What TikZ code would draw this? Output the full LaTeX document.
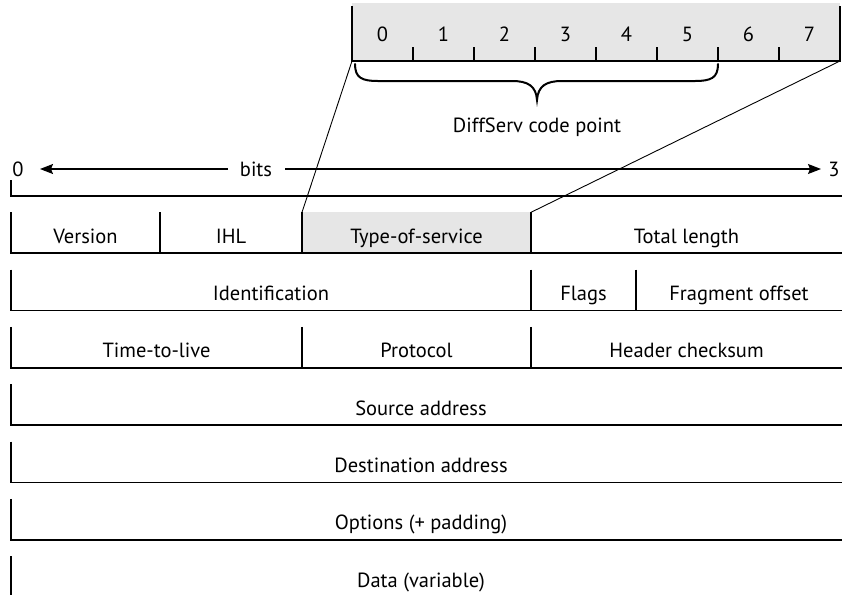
\documentclass[tikz,border=0pt]{standalone}
\usepackage{fontspec}
\setmainfont{PT Sans}
\usetikzlibrary{arrows.meta}
\definecolor{cellgray}{RGB}{230,230,230}
\begin{document}
\begin{tikzpicture}[x=1pt,y=-1pt,
  font=\fontsize{20.5}{24}\selectfont,
  rule/.style={line width=1.7pt},
  tickline/.style={line width=1.5pt},
  slant/.style={line width=0.9pt},
  arrowline/.style={line width=1.2pt,-{Stealth[length=13pt,width=10pt,inset=2pt]}},
  lab/.style={inner sep=0pt,anchor=base}]
\useasboundingbox (0,0) rectangle (842,595);

% ---- byte box at the top
\fill[cellgray] (352,3) rectangle (840,61);
\draw[rule] (352,6) -- (352,61) -- (840,61) -- (840,6);
\foreach \i in {1,...,7} {
  \draw[tickline] ({352+61*\i},47) -- ({352+61*\i},61);
}
\foreach \i in {0,...,7} {
  \node[lab] (d\i) at ({352+61*\i+30.5},41) {\i};
}
\coordinate (bl) at (352,61);
\coordinate (br) at (840,61);

% ---- brace
\draw[line width=2pt,line cap=round]
  (355,64) .. controls (355,78) and (362,81) .. (378,81)
  -- (512,81) .. controls (528,81) and (536,86) .. (537,100)
  .. controls (538,86) and (546,81) .. (562,81)
  -- (695,81) .. controls (711,81) and (718,78) .. (718,64);
\node[lab] (dscp) at (537,132) {DiffServ code point};

% ---- bits arrow
\node[lab] (b0) at (18,176) {0};
\node[lab] (bits) at (256,176) {bits};
\node[lab] (b31) at (834,176) {3};
\coordinate (al) at (40,169);
\coordinate (ar) at (821,169);
\draw[arrowline] (228,169) -- (al);
\draw[arrowline] (285,169) -- (ar);
\draw[rule] (11,180) |- (842,195.7);

% ---- rows
\fill[cellgray] (302,212.3) rectangle (531,253.3);
\foreach \k in {0,...,5} {
  \draw[rule] (11,{212.3+57.3*\k}) |- (842,{253.3+57.3*\k});
}
\draw[rule] (11,{212.3+57.3*6}) -- (11,595);

% row 0
\draw[rule] (160,212.3) -- (160,253.3);
\draw[rule] (302,212.3) -- (302,253.3);
\draw[rule] (531,212.3) -- (531,253.3);
\coordinate (tl) at (302,212.3);
\coordinate (tr) at (531,212.3);
\node[lab] (ver) at (85.5,243.2) {Version};
\node[lab] (ihl) at (231,243.2) {IHL};
\node[lab] (tos) at (416.5,243.2) {Type-of-service};
\node[lab] (tlen) at (686.5,243.2) {Total length};

% row 1
\draw[rule] (531,269.6) -- (531,310.6);
\draw[rule] (636,269.6) -- (636,310.6);
\node[lab] (ident) at (271,300.5) {Identification};
\node[lab] (flags) at (583.5,300.5) {Flags};
\node[lab] (frag) at (739,300.5) {Fragment offset};

% row 2
\draw[rule] (302,326.9) -- (302,367.9);
\draw[rule] (531,326.9) -- (531,367.9);
\node[lab] (ttl) at (156.5,357.8) {Time-to-live};
\node[lab] (proto) at (416.5,357.8) {Protocol};
\node[lab] (chk) at (686.5,357.8) {Header checksum};

% rows 3-6
\node[lab] (src) at (421,415.1) {Source address};
\node[lab] (dst) at (421,472.4) {Destination address};
\node[lab] (opt) at (421,529.7) {Options (+ padding)};
\node[lab] (data) at (421,587) {Data (variable)};

% ---- slanted connectors
\draw[slant] (bl) -- (tl);
\draw[slant] (br) -- (tr);
\end{tikzpicture}
\end{document}
